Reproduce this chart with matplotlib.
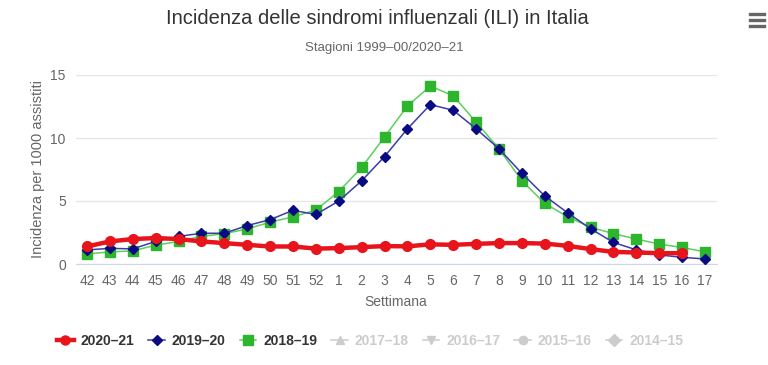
import matplotlib
matplotlib.use("Agg")
import matplotlib.pyplot as plt
from matplotlib.lines import Line2D

# week labels of the season
weeks = ['42', '43', '44', '45', '46', '47', '48', '49', '50', '51', '52',
         '1', '2', '3', '4', '5', '6', '7', '8', '9', '10', '11', '12',
         '13', '14', '15', '16', '17']

# incidence per 1000 patients
ili_2020_21 = [1.39, 1.79, 1.98, 2.06, 1.98, 1.79, 1.66, 1.52, 1.39, 1.39, 1.22,
               1.26, 1.34, 1.42, 1.40, 1.56, 1.52, 1.60, 1.66, 1.66, 1.62, 1.44,
               1.18, 0.96, 0.91, 0.86, 0.86]
ili_2019_20 = [1.12, 1.24, 1.20, 1.79, 2.19, 2.44, 2.44, 3.05, 3.52, 4.26, 3.93,
               5.00, 6.60, 8.53, 10.73, 12.65, 12.20, 10.73, 9.14, 7.19, 5.40, 4.06,
               2.80, 1.71, 1.12, 0.72, 0.53, 0.40]
ili_2018_19 = [0.80, 0.96, 1.04, 1.49, 1.79, 2.19, 2.41, 2.78, 3.32, 3.74, 4.28,
               5.75, 7.67, 10.08, 12.55, 14.12, 13.35, 11.26, 9.14, 6.60, 4.81, 3.74,
               2.91, 2.41, 1.98, 1.58, 1.31, 0.96]
hidden_seasons = ['2017–18', '2016–17', '2015–16', '2014–15']

plt.rcParams['font.family'] = ['Liberation Sans', 'DejaVu Sans']

fig = plt.figure(figsize=(7.68, 3.65), dpi=100)
ax = fig.add_axes([75.5 / 768, 1 - 264 / 365, 641 / 768, 189 / 365])

x = list(range(len(weeks)))
ax.plot(x[:len(ili_2020_21)], ili_2020_21, color='#e8141b', lw=3.2, marker='o', ms=7,
        mfc='#e8141b', mec='#e8141b', zorder=5, clip_on=False)
ax.plot(x, ili_2019_20, color='#3c3ca8', lw=1.1, marker='D', ms=5,
        mfc='#0a0a82', mec='#0a0a82', zorder=4, clip_on=False)
ax.plot(x, ili_2018_19, color='#5ccf5c', lw=1.1, marker='s', ms=7.5,
        mfc='#2db52d', mec='#2db52d', zorder=3, clip_on=False)

ax.set_xlim(-0.5, len(weeks) - 0.5)
ax.set_ylim(0, 15)
ax.set_yticks([0, 5, 10, 15])
ax.set_xticks(x)
ax.set_xticklabels(weeks)
ax.grid(axis='y', color='#e6e6e6', lw=1)
ax.set_axisbelow(True)
for s in ['top', 'right', 'left']:
    ax.spines[s].set_visible(False)
ax.spines['bottom'].set_color('#ccd6eb')
ax.tick_params(axis='both', length=0, colors='#666666', labelsize=10)
ax.tick_params(axis='x', pad=7)
ax.tick_params(axis='y', pad=7)
ax.set_xlabel('Settimana', color='#666666', fontsize=10, labelpad=5)
ax.set_ylabel('Incidenza per 1000 assistiti', color='#666666', fontsize=10.5, labelpad=4)

fig.text(0.492, 0.95, 'Incidenza delle sindromi influenzali (ILI) in Italia',
         ha='center', va='center', fontsize=14.5, color='#333333')
fig.text(0.5, 0.868, 'Stagioni 1999–00/2020–21', ha='center', va='center',
         fontsize=9.5, color='#666666')
# menu icon
for dy in (0.0, 0.016, 0.032):
    fig.add_artist(Line2D([0.977, 0.995], [0.93 + dy, 0.93 + dy], color='#666666',
                          lw=2.4, transform=fig.transFigure))

handles = [
    Line2D([], [], color='#e8141b', lw=3.2, marker='o', ms=6.5),
    Line2D([], [], color='#3c3ca8', lw=1.1, marker='D', ms=5, mfc='#0a0a82', mec='#0a0a82'),
    Line2D([], [], color='#5ccf5c', lw=1.1, marker='s', ms=6.5, mfc='#2db52d', mec='#2db52d'),
]
for m in ['^', 'v', 'o', 'D']:
    handles.append(Line2D([], [], color='#cccccc', lw=1.1, marker=m, ms=6))
labels = ['2020–21', '2019–20', '2018–19'] + hidden_seasons
leg = fig.legend(handles, labels, ncol=7, loc='center', bbox_to_anchor=(0.482, 0.065),
                 frameon=False, handlelength=1.2, handletextpad=0.5, columnspacing=1.0,
                 prop={'size': 10, 'weight': 'bold'})
for i, t in enumerate(leg.get_texts()):
    t.set_color('#333333' if i < 3 else '#cccccc')

fig.savefig('out.png', dpi=100, facecolor='white')
